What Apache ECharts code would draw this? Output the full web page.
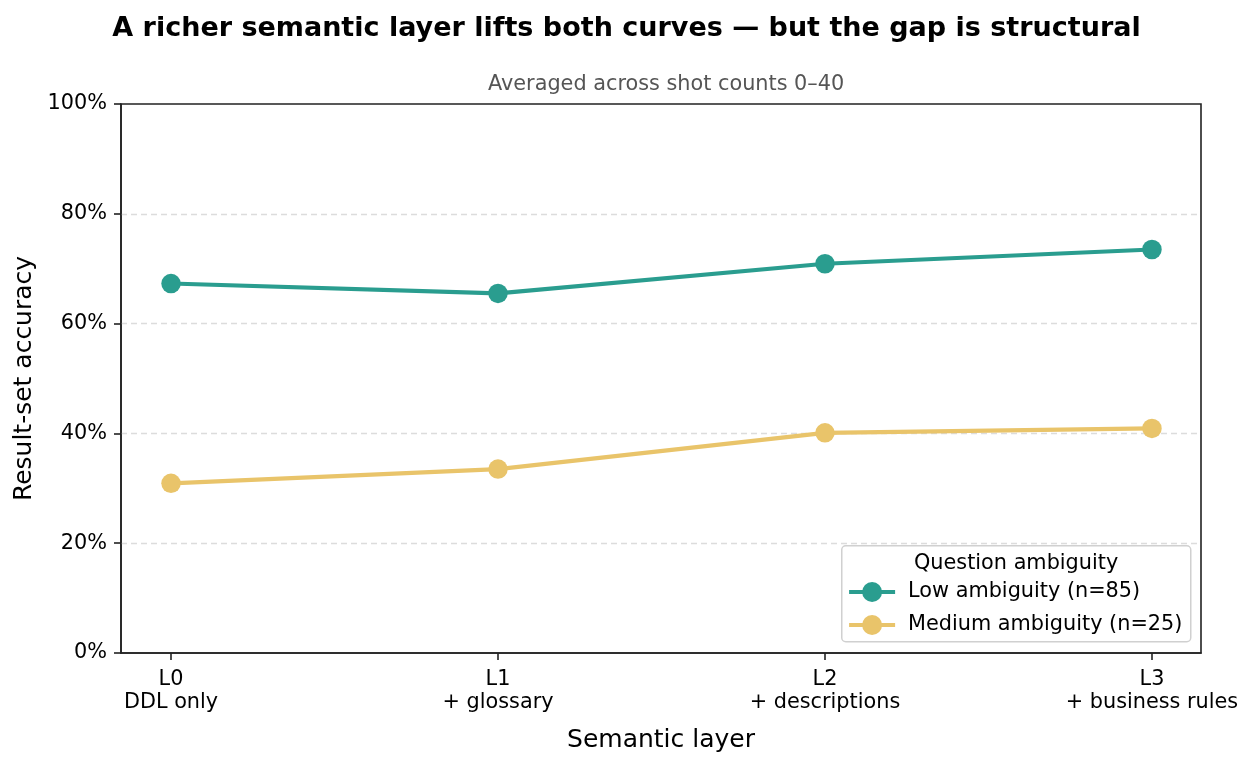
<!DOCTYPE html>
<html><head><meta charset="utf-8">
<script src="https://cdn.jsdelivr.net/npm/echarts@6/dist/echarts.min.js"></script>
<style>html,body{margin:0;padding:0;background:#fff}#c{width:1253px;height:766px}</style>
</head><body><div id="c"></div>
<script>
const layerCodes = ['L0', 'L1', 'L2', 'L3'];
const layerNames = ['DDL only', '+ glossary', '+ descriptions', '+ business rules'];
const lowAmbiguity = [67.3, 65.5, 70.9, 73.5];
const mediumAmbiguity = [30.9, 33.5, 40.1, 40.9];
const seriesNames = ['Low ambiguity (n=85)', 'Medium ambiguity (n=25)'];
const yTicks = [0, 20, 40, 60, 80, 100];

const F = 'DejaVu Sans';
const chart = echarts.init(document.getElementById('c'));
const idx = layerCodes.map((_, i) => i);
chart.setOption({
  animation: false,
  textStyle: { fontFamily: F },
  title: [
    { text: 'A richer semantic layer lifts both curves — but the gap is structural', left: 'center', top: 10,
      textStyle: { fontFamily: F, fontSize: 27, fontWeight: 'bold', color: '#000' } },
    { text: 'Averaged across shot counts 0–40', left: 483, top: 69,
      textStyle: { fontFamily: F, fontSize: 20.8, fontWeight: 'normal', color: '#555' } }
  ],
  grid: { left: 121, right: 52, top: 104, bottom: 113, show: true, borderColor: '#222', borderWidth: 1.6, backgroundColor: 'transparent' },
  xAxis: {
    type: 'value', min: -0.153, max: 3.15,
    name: 'Semantic layer', nameLocation: 'middle', nameGap: 75,
    nameTextStyle: { fontFamily: F, fontSize: 25, color: '#000' },
    axisLine: { show: true, onZero: false, lineStyle: { color: '#222', width: 1.6 } },
    axisTick: { show: true, customValues: idx, length: 7, lineStyle: { color: '#222', width: 1.6 } },
    axisLabel: { customValues: idx, fontFamily: F, fontSize: 20.8, color: '#000', lineHeight: 23, margin: 15,
      formatter: v => layerCodes[Math.round(v)] + '\n' + layerNames[Math.round(v)] },
    splitLine: { show: false }
  },
  yAxis: {
    type: 'value', min: 0, max: 100, interval: 20,
    name: 'Result-set accuracy', nameLocation: 'middle', nameGap: 81,
    nameTextStyle: { fontFamily: F, fontSize: 25, color: '#000' },
    axisLine: { show: true, onZero: false, lineStyle: { color: '#222', width: 1.6 } },
    axisTick: { show: true, length: 7, lineStyle: { color: '#222', width: 1.6 } },
    axisLabel: { fontFamily: F, fontSize: 20.8, color: '#000', margin: 14, formatter: '{value}%' },
    splitLine: { show: true, showMinLine: false, showMaxLine: false, lineStyle: { color: '#dcdcdc', type: [6, 4], width: 1.3 } }
  },
  graphic: [
    { type: 'rect', left: 841, top: 545, shape: { width: 349, height: 96, r: 4 },
      style: { fill: 'rgba(255,255,255,0.85)', stroke: '#d0d0d0', lineWidth: 1.5 }, z: 3 },
    { type: 'text', left: 914, top: 553, style: { text: 'Question ambiguity', font: '20.8px "DejaVu Sans"', fill: '#000' }, z: 5 }
  ],
  legend: {
    orient: 'vertical', left: 842, top: 575, itemGap: 9, itemWidth: 46, itemHeight: 25, z: 6,
    lineStyle: { width: 4.2 },
    textStyle: { fontFamily: F, fontSize: 20.8, color: '#000', lineHeight: 24, padding: [0, 0, 0, 8] },
    data: seriesNames
  },
  series: [
    { name: seriesNames[0], type: 'line', data: lowAmbiguity.map((v, i) => [i, v]),
      symbol: 'circle', symbolSize: 19.5, color: '#2a9d8f',
      lineStyle: { width: 4.2, color: '#2a9d8f' }, itemStyle: { color: '#2a9d8f' }, z: 2 },
    { name: seriesNames[1], type: 'line', data: mediumAmbiguity.map((v, i) => [i, v]),
      symbol: 'circle', symbolSize: 19.5, color: '#e9c46a',
      lineStyle: { width: 4.2, color: '#e9c46a' }, itemStyle: { color: '#e9c46a' }, z: 2 }
  ]
});
</script></body></html>
